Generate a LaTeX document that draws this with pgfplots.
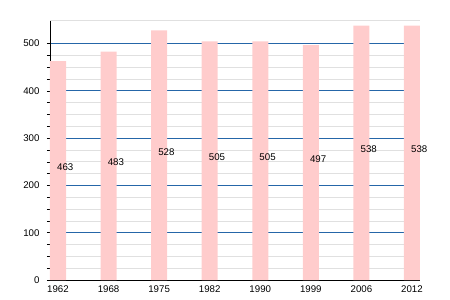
\documentclass[border=0pt]{standalone}
\usepackage{fontspec}
\setmainfont{Liberation Sans}
\usepackage{pgfplots}
\pgfplotsset{compat=1.18}
\definecolor{barpink}{HTML}{FFCCCC}
\definecolor{gridblue}{HTML}{2566A8}
\definecolor{gridgray}{HTML}{E0E0E0}
\begin{document}
\begin{tikzpicture}
\useasboundingbox (-50pt,-20pt) rectangle (400pt,280pt);
\begin{axis}[
  at={(0,0)}, anchor=south west,
  scale only axis, width=370pt, height=260pt,
  xmin=-0.1582, xmax=7.1582, ymin=0, ymax=550,
  axis x line*=bottom, axis y line*=left,
  axis line style={black, line width=0.8pt, -},
  xtick={0,1,2,3,4,5,6,7},
  xticklabels={1962,1968,1975,1982,1990,1999,2006,2012},
  ytick={0,100,200,300,400,500},
  minor y tick num=3,
  ymajorgrids, yminorgrids,
  major grid style={gridblue, line width=1pt},
  minor grid style={gridgray, line width=0.8pt},
  major x tick style={draw=none},
  y tick style={black, line width=0.6pt},
  tick align=outside,
  major tick length=3pt, minor tick length=3pt,
  tick label style={font=\fontsize{9.7}{11}\selectfont, text=black},
  /pgf/number format/assume math mode=true,
  yticklabel style={xshift=-4pt},
  xticklabel style={yshift=1pt},
]
\draw[gridgray, line width=0.8pt] (rel axis cs:0,1) -- (rel axis cs:1,1);
\addplot[ybar, bar width=16pt, fill=barpink, draw=none] coordinates {
  (0,463) (1,483) (2,528) (3,505) (4,505) (5,497) (6,538) (7,538)};
\addplot[draw=none, mark=none, nodes near coords, point meta=explicit symbolic,
  every node near coord/.style={anchor=base west, inner sep=0pt, xshift=-1pt,
  font=\fontsize{9.7}{11}\selectfont, text=black}] coordinates {
  (0,231.5)[463] (1,241.5)[483] (2,264)[528] (3,252.5)[505]
  (4,252.5)[505] (5,248.5)[497] (6,269)[538] (7,269)[538]};
\end{axis}
\end{tikzpicture}
\end{document}
